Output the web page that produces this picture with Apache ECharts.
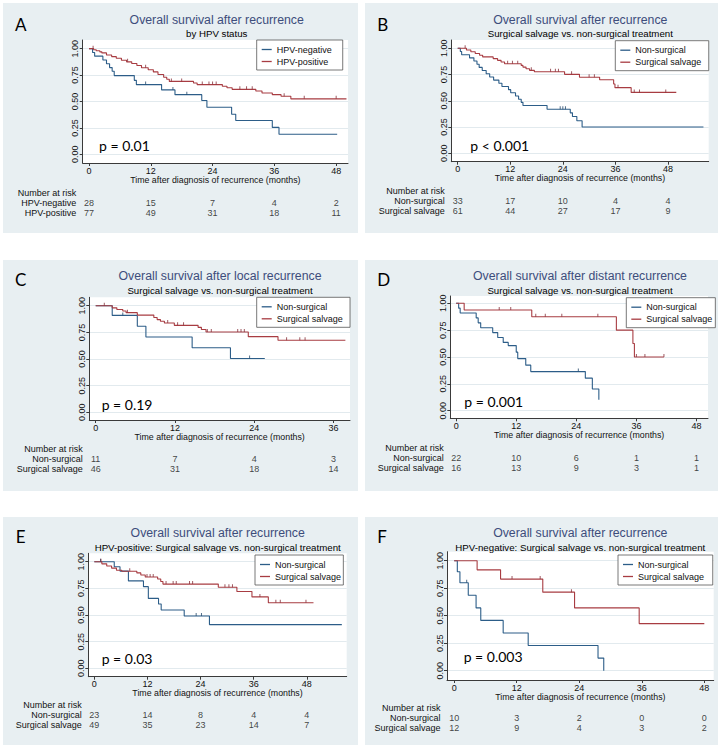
<!DOCTYPE html>
<html><head><meta charset="utf-8">
<script src="https://cdn.jsdelivr.net/npm/echarts@6/dist/echarts.min.js"></script>
<style>html,body{margin:0;padding:0;background:#fff}#c{width:725px;height:750px}</style>
</head><body><div id="c"></div>
<script>
// ---------------- data ----------------
const ticks48 = [0, 12, 24, 36, 48];
const ticks36 = [0, 12, 24, 36];
const yTicks = [0, 0.25, 0.5, 0.75, 1];
const xAxisTitle = 'Time after diagnosis of recurrence (months)';
const riskHeader = 'Number at risk';

const panelLetters = ['A', 'B', 'C', 'D', 'E', 'F'];
const mainTitles = [
  'Overall survival after recurrence',
  'Overall survival after recurrence',
  'Overall survival after local recurrence',
  'Overall survival after distant recurrence',
  'Overall survival after recurrence',
  'Overall survival after recurrence'
];
const subTitles = [
  'by HPV status',
  'Surgical salvage vs. non-surgical treatment',
  'Surgical salvage vs. non-surgical treatment',
  'Surgical salvage vs. non-surgical treatment',
  'HPV-positive: Surgical salvage vs. non-surgical treatment',
  'HPV-negative: Surgical salvage vs. non-surgical treatment'
];
const pValues = ['p = 0.01', 'p < 0.001', 'p = 0.19', 'p = 0.001', 'p = 0.03', 'p = 0.003'];
const groupsHPV = ['HPV-negative', 'HPV-positive'];
const groupsTx = ['Non-surgical', 'Surgical salvage'];

// Kaplan-Meier step points [month, survival]
const aNeg = [[0,1],[0.7,0.964],[1.1,0.929],[2.7,0.893],[3.4,0.857],[4.0,0.821],[4.5,0.786],[4.9,0.745],[8.8,0.70],[9.2,0.66],[14.1,0.61],[16.7,0.565],[21.9,0.51],[22.9,0.445],[27.7,0.38],[28.5,0.32],[35.6,0.255],[36.9,0.19],[48.2,0.19]];
const aPos = [[0,1],[0.9,0.99],[1.4,0.98],[2.1,0.97],[2.5,0.96],[3.4,0.94],[4.4,0.925],[5.3,0.91],[6.3,0.89],[7.3,0.875],[8.3,0.86],[9.3,0.84],[10.2,0.82],[11.5,0.80],[12.5,0.78],[13.4,0.755],[14.5,0.73],[15.1,0.71],[15.6,0.69],[20.3,0.675],[21.0,0.66],[25.9,0.645],[26.8,0.63],[27.8,0.615],[32.4,0.60],[33.6,0.58],[35.6,0.565],[37.3,0.55],[39.2,0.525],[50.0,0.525]];
const bNon = [[0,1],[0.6,0.97],[0.9,0.939],[2.7,0.909],[3.7,0.879],[4.4,0.848],[4.9,0.818],[5.6,0.788],[6.5,0.758],[7.3,0.727],[8.2,0.697],[9.4,0.667],[10.1,0.636],[11.6,0.606],[12.1,0.576],[13.2,0.545],[13.9,0.515],[14.5,0.485],[14.9,0.455],[20.4,0.42],[25.7,0.385],[26.2,0.35],[27.2,0.31],[28.4,0.25],[56.1,0.25]];
const bSal = [[0,1],[2.0,0.984],[3.0,0.967],[4.0,0.951],[5.0,0.934],[5.7,0.918],[8.1,0.902],[9.1,0.885],[9.9,0.869],[10.7,0.853],[14.5,0.837],[14.9,0.821],[15.6,0.805],[16.4,0.79],[17.5,0.776],[24.4,0.752],[27.8,0.724],[32.4,0.70],[35.6,0.66],[35.9,0.625],[39.6,0.58],[49.9,0.58]];
const cNon = [[0,1],[2.5,0.909],[6.3,0.808],[7.6,0.707],[14.6,0.606],[20.4,0.505],[25.6,0.505]];
const cSal = [[0,1],[2.5,0.98],[3.2,0.965],[4.1,0.95],[4.6,0.935],[6.3,0.912],[8.8,0.89],[9.3,0.87],[9.8,0.855],[10.4,0.838],[11.9,0.816],[15.5,0.797],[16.0,0.777],[16.7,0.754],[23.1,0.71],[27.6,0.676],[37.8,0.676]];
const dNon = [[0,1],[0.5,0.955],[0.8,0.909],[4.0,0.864],[4.4,0.818],[4.9,0.773],[7.3,0.727],[8.3,0.682],[9.4,0.636],[10.4,0.606],[12.0,0.545],[12.3,0.485],[13.9,0.424],[14.9,0.364],[25.8,0.303],[27.2,0.202],[28.5,0.101]];
const dSal = [[0,1],[1.6,0.9375],[15.1,0.875],[32.0,0.75],[35.3,0.625],[35.6,0.5],[41.5,0.5]];
const eNon = [[0,1],[4.5,0.953],[5.8,0.912],[7.7,0.82],[11.1,0.766],[12.2,0.656],[14.5,0.603],[15.1,0.547],[20.3,0.49],[26.0,0.41],[55.9,0.41]];
const eSal = [[0,1],[1.7,0.98],[2.8,0.96],[3.9,0.94],[5.0,0.92],[6.2,0.91],[9.6,0.895],[10.5,0.875],[11.5,0.857],[14.3,0.838],[15.0,0.815],[15.5,0.79],[28.0,0.76],[32.2,0.72],[35.6,0.67],[39.3,0.615],[49.5,0.615]];
const fNon = [[0,1],[0.6,0.9],[1.1,0.8],[2.7,0.686],[4.2,0.571],[5.1,0.457],[9.4,0.343],[14.2,0.229],[27.6,0.114],[28.7,0]];
const fSal = [[0,1],[4.4,0.917],[8.9,0.833],[17.0,0.714],[23.1,0.571],[35.5,0.428],[48.0,0.428]];

// censoring times (months)
const aNegCens = [11.0, 16.3, 19.0];
const aPosCens = [0.8, 7.5, 11.0, 16.0, 18.0, 22.0, 23.3, 24.0, 24.7, 29.3, 30.6, 31.7, 37.9, 41.8, 48.0];
const bNonCens = [23.4, 24.0, 24.6];
const bSalCens = [1.7, 11.4, 12.5, 13.7, 16.8, 21.2, 22.3, 23.0, 26.0, 30.0, 31.2, 36.6, 40.3, 41.5, 47.5];
const cNonCens = [4.1, 23.3];
const cSalCens = [1.3, 4.8, 10.9, 12.4, 13.3, 16.9, 17.5, 21.5, 22.0, 22.5, 28.9, 30.9, 31.7];
const dNonCens = [24.4];
const dSalCens = [8.6, 10.9, 15.9, 17.8, 21.1, 28.3, 36.0, 37.7, 41.5];
const eNonCens = [1.4, 23.0, 24.2];
const eSalCens = [1.5, 8.0, 11.9, 12.6, 13.3, 16.2, 17.8, 18.5, 21.5, 22.2, 29.5, 30.4, 31.2, 37.4, 41.0, 42.0, 47.8];
const fNonCens = [2.4];
const fSalCens = [11.1, 16.5, 22.5];

// number at risk
const riskA = [[28, 15, 7, 4, 2], [77, 49, 31, 18, 11]];
const riskB = [[33, 17, 10, 4, 4], [61, 44, 27, 17, 9]];
const riskC = [[11, 7, 4, 3], [46, 31, 18, 14]];
const riskD = [[22, 10, 6, 1, 1], [16, 13, 9, 3, 1]];
const riskE = [[23, 14, 8, 4, 4], [49, 35, 23, 14, 7]];
const riskF = [[10, 3, 2, 0, 0], [12, 9, 4, 3, 2]];

const panelData = [
  { names: groupsHPV, curves: [aNeg, aPos], cens: [aNegCens, aPosCens], ticks: ticks48, risk: riskA },
  { names: groupsTx, curves: [bNon, bSal], cens: [bNonCens, bSalCens], ticks: ticks48, risk: riskB },
  { names: groupsTx, curves: [cNon, cSal], cens: [cNonCens, cSalCens], ticks: ticks36, risk: riskC },
  { names: groupsTx, curves: [dNon, dSal], cens: [dNonCens, dSalCens], ticks: ticks48, risk: riskD },
  { names: groupsTx, curves: [eNon, eSal], cens: [eNonCens, eSalCens], ticks: ticks48, risk: riskE },
  { names: groupsTx, curves: [fNon, fSal], cens: [fNonCens, fSalCens], ticks: ticks48, risk: riskF }
];

// ---------------- layout & style ----------------
const layout = [
  { bg: [3, 3, 355, 230], grid: [82.7, 40, 265.3, 123], xr: [-1.22, 50.3], yr: [-0.082, 1.082], letter: [20.7, 24], tx: 216.7, ty: 20, sy: 33.3, leg: [256.7, 40, 11], p: [99, 145], riskTop: 187.5 },
  { bg: [365, 3, 353, 230], grid: [451.3, 40, 257.4, 121.7], xr: [-1.46, 57.3], yr: [-0.08, 1.079], letter: [382.7, 24], tx: 580.3, ty: 20, sy: 33.3, leg: [615.3, 40.7, 7.4], p: [470.3, 145], riskTop: 185.5 },
  { bg: [3, 260, 355, 231], grid: [89.3, 297.3, 260.7, 122.7], xr: [-0.97, 38.5], yr: [-0.072, 1.079], letter: [20.7, 279.3], tx: 220, ty: 276, sy: 290.7, leg: [256.7, 297.3, 7.3], p: [101.7, 404.3], riskTop: 444.3 },
  { bg: [365, 260, 353, 231], grid: [450.3, 296, 257.7, 122.3], xr: [-1.17, 50.3], yr: [-0.071, 1.068], letter: [383.7, 279.3], tx: 580, ty: 276, sy: 290.7, leg: [626.3, 297.7, 3], p: [464.3, 401.7], riskTop: 443.3 },
  { bg: [3, 517, 355, 228], grid: [88.3, 553.3, 258.4, 123.4], xr: [-1.36, 57.0], yr: [-0.079, 1.079], letter: [20.7, 536.7], tx: 217.7, ty: 533.3, sy: 547.3, leg: [255, 555, 2.3], p: [101.7, 658.3], riskTop: 700 },
  { bg: [365, 517, 353, 228], grid: [447, 551.7, 266.7, 128.3], xr: [-1.38, 49.8], yr: [-0.085, 1.082], letter: [382, 536.7], tx: 580.3, ty: 533.3, sy: 547.3, leg: [618, 555, 8.7], p: [463.7, 656.7], riskTop: 703.3 }
];

const FONT = '"Liberation Sans", Arial, sans-serif';
const FONT2 = 'Lato, "Open Sans", sans-serif';
const COLORS = ['#2c5d88', '#a83c42'];
const CENS_COLORS = ['#24496b', '#86303a'];
const PANEL_BG = '#e8eff2';
const GRID_C = '#e2eaee';
const AXIS_C = '#3a3a3a';
const TXT = '#111';
const TITLE_C = '#3d4d7c';

function survAt(curve, t) {
  let s = curve[0][1];
  for (const pt of curve) { if (pt[0] <= t) s = pt[1]; else break; }
  return s;
}

function textEl(text, x, y, size, family, color, align, weight) {
  return { type: 'text', silent: true, z: 10, style: { text: text, x: x, y: y, fontSize: size, fontFamily: family, fontWeight: weight || 'normal', fill: color, textAlign: align, textVerticalAlign: 'middle', align: align, verticalAlign: 'middle' } };
}

const grids = [], xAxes = [], yAxes = [], series = [], legends = [], graphics = [];

panelData.forEach((pd, i) => {
  const L = layout[i];
  const gi = grids.length;
  grids.push({ left: L.grid[0], top: L.grid[1], width: L.grid[2], height: L.grid[3], show: true, backgroundColor: '#fff', borderWidth: 0, containLabel: false, outerBoundsMode: 'none' });
  xAxes.push({
    gridIndex: gi, type: 'value', min: L.xr[0], max: L.xr[1],
    axisLine: { show: true, onZero: false, lineStyle: { color: AXIS_C, width: 1 } },
    axisTick: { show: true, customValues: pd.ticks, length: 3, lineStyle: { color: AXIS_C } },
    axisLabel: { show: true, customValues: pd.ticks, margin: 3, fontSize: 9, color: TXT, fontFamily: FONT },
    splitLine: { show: false },
    name: xAxisTitle, nameLocation: 'middle', nameGap: 12, nameMoveOverlap: false,
    nameTextStyle: { fontSize: 8.8, color: TXT, fontFamily: FONT }
  });
  yAxes.push({
    gridIndex: gi, type: 'value', min: L.yr[0], max: L.yr[1],
    axisLine: { show: true, onZero: false, lineStyle: { color: AXIS_C, width: 1 } },
    axisTick: { show: true, customValues: yTicks, length: 3, lineStyle: { color: AXIS_C } },
    axisLabel: { show: true, customValues: yTicks, rotate: 90, margin: 3, fontSize: 9, color: TXT, fontFamily: FONT, formatter: v => Number(v).toFixed(2) },
    splitLine: { show: true, lineStyle: { color: GRID_C, width: 1 } }
  });
  pd.curves.forEach((curve, k) => {
    series.push({
      type: 'line', name: pd.names[k], xAxisIndex: gi, yAxisIndex: gi, data: curve, step: 'end',
      showSymbol: false, symbol: 'none', lineStyle: { color: COLORS[k], width: 1.1 }, itemStyle: { color: COLORS[k] },
      silent: true, z: 3
    });
    series.push({
      type: 'scatter', xAxisIndex: gi, yAxisIndex: gi,
      data: pd.cens[k].map(t => [t, survAt(curve, t)]),
      symbol: 'rect', symbolSize: [1, 3], symbolOffset: [0, -1.5],
      itemStyle: { color: CENS_COLORS[k] }, silent: true, z: 4
    });
  });
  // risk table grid
  const ri = grids.length;
  grids.push({ left: L.grid[0], top: L.riskTop, width: L.grid[2], height: 30, show: false, containLabel: false, outerBoundsMode: 'none' });
  xAxes.push({ gridIndex: ri, type: 'value', min: L.xr[0], max: L.xr[1], show: false });
  yAxes.push({
    gridIndex: ri, type: 'category', inverse: true, data: [riskHeader].concat(pd.names),
    axisLine: { show: false }, axisTick: { show: false }, splitLine: { show: false },
    axisLabel: { interval: 0, margin: 6.5, fontSize: 9, color: TXT, fontFamily: FONT }
  });
  const riskPts = [];
  pd.risk.forEach((row, r) => row.forEach((n, j) => riskPts.push([pd.ticks[j], r + 1, n])));
  series.push({
    type: 'scatter', xAxisIndex: ri, yAxisIndex: ri, data: riskPts, symbolSize: 1,
    itemStyle: { color: 'rgba(0,0,0,0)' }, silent: true,
    label: { show: true, position: 'inside', formatter: d => String(d.data[2]), fontSize: 9, color: TXT, fontFamily: FONT }
  });
  legends.push({
    orient: 'vertical', left: L.leg[0], top: L.leg[1], data: pd.names, selectedMode: false,
    icon: 'rect', itemWidth: 10, itemHeight: 1.3, itemGap: 1,
    padding: [4, L.leg[2], 3, 5], backgroundColor: '#fff', borderColor: '#555', borderWidth: 0.8, borderRadius: 0,
    textStyle: { fontSize: 9, color: TXT, fontFamily: FONT, lineHeight: 11 }
  });
  graphics.push({ type: 'rect', z: -10, silent: true, shape: { x: L.bg[0], y: L.bg[1], width: L.bg[2], height: L.bg[3] }, style: { fill: PANEL_BG } });
  graphics.push(textEl(panelLetters[i], L.letter[0], L.letter[1], 17, FONT2, '#000', 'center'));
  graphics.push(textEl(mainTitles[i], L.tx, L.ty, 12.3, FONT, TITLE_C, 'center'));
  graphics.push(textEl(subTitles[i], L.tx, L.sy, 9.7, FONT, '#000', 'center'));
  graphics.push(textEl(pValues[i], L.p[0], L.p[1], 14, FONT2, '#000', 'left'));
});

const chart = echarts.init(document.getElementById('c'), null, { renderer: 'svg' });
chart.setOption({
  animation: false,
  backgroundColor: '#fff',
  grid: grids, xAxis: xAxes, yAxis: yAxes, series: series, legend: legends,
  graphic: { elements: graphics }
});
</script>
</body></html>
